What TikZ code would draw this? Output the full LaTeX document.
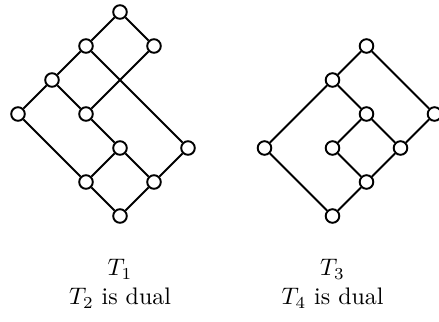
\documentclass[tikz,border=0pt]{standalone}
\usepackage{amsmath}
\usepackage{tikz}
\usetikzlibrary{positioning}
\tikzset{
  vertex/.style={circle, draw=black, thick, fill=white,
    minimum size=2mm, inner sep=0pt},
  edge/.style={thick, draw=black},
  caption/.style={align=center, font=\normalsize}
}

\begin{document}
\begin{tikzpicture}[x=0.5cm, y=0.5cm]
  \useasboundingbox (-3.529,-3.088) rectangle (9.382,6.353);

  % left lattice
  \node[vertex] (la) at (0,0) {};
  \node[vertex] (lb) at (-1,1) {};
  \node[vertex] (lc) at (1,1) {};
  \node[vertex] (ld) at (0,2) {};
  \node[vertex] (le) at (2,2) {};
  \node[vertex] (lf) at (-3,3) {};
  \node[vertex] (lg) at (-1,3) {};
  \node[vertex] (lh) at (-2,4) {};
  \node[vertex] (li) at (-1,5) {};
  \node[vertex] (lj) at (1,5) {};
  \node[vertex] (lk) at (0,6) {};
  \draw[edge] (la) -- (lb); \draw[edge] (la) -- (lc);
  \draw[edge] (lb) -- (ld); \draw[edge] (lc) -- (ld);
  \draw[edge] (lc) -- (le); \draw[edge] (lb) -- (lf);
  \draw[edge] (ld) -- (lg);
  \draw[edge] (lf) -- (lh); \draw[edge] (lg) -- (lh);
  \draw[edge] (lh) -- (li); \draw[edge] (lg) -- (lj);
  \draw[edge] (le) -- (li);
  \draw[edge] (li) -- (lk); \draw[edge] (lj) -- (lk);
  \node[caption, anchor=north] (capl) at (0,-1.03) {$T_1$\\ $T_2$ is dual};

  % right lattice
  \node[vertex] (ra) at (6.25,0) {};
  \node[vertex] (rb) at (7.25,1) {};
  \node[vertex] (rc) at (4.25,2) {};
  \node[vertex] (rd) at (6.25,2) {};
  \node[vertex] (re) at (8.25,2) {};
  \node[vertex] (rf) at (7.25,3) {};
  \node[vertex] (rg) at (9.25,3) {};
  \node[vertex] (rh) at (6.25,4) {};
  \node[vertex] (ri) at (7.25,5) {};
  \draw[edge] (ra) -- (rb); \draw[edge] (ra) -- (rc);
  \draw[edge] (rb) -- (rd); \draw[edge] (rb) -- (re);
  \draw[edge] (rd) -- (rf); \draw[edge] (re) -- (rf);
  \draw[edge] (re) -- (rg);
  \draw[edge] (rc) -- (rh); \draw[edge] (rf) -- (rh);
  \draw[edge] (rh) -- (ri); \draw[edge] (rg) -- (ri);
  \node[caption, anchor=north] (capr) at (6.25,-1.03) {$T_3$\\ $T_4$ is dual};
\end{tikzpicture}
\end{document}
